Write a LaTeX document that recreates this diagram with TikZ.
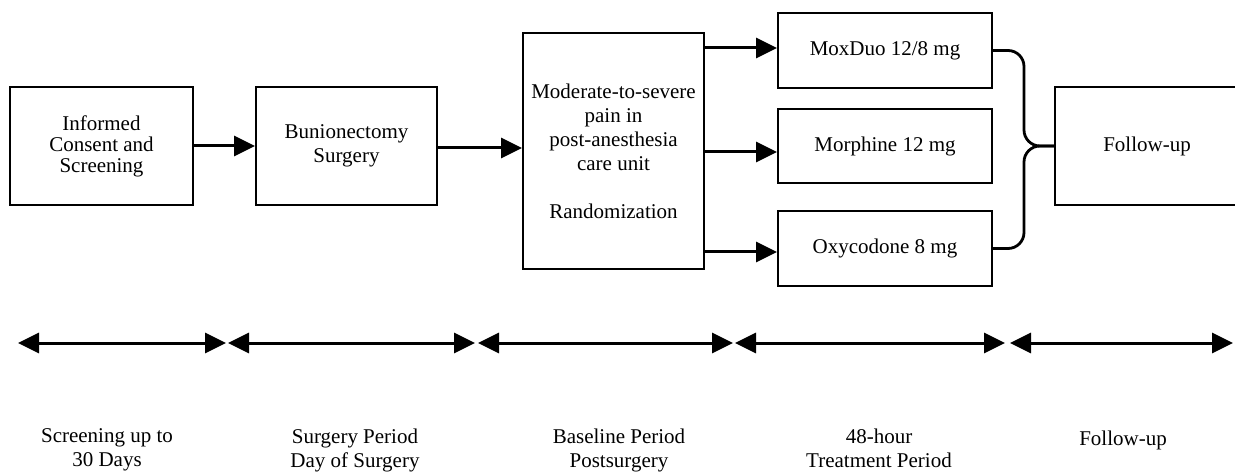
\documentclass[tikz,border=0pt]{standalone}
\usepackage{fontspec}
\setmainfont{Liberation Serif}
\usetikzlibrary{arrows.meta}
\begin{document}
\begin{tikzpicture}[x=1pt,y=-1pt,
  txt/.style={font=\fontsize{21}{24}\selectfont},
  box/.style={draw, line width=2pt, inner sep=0pt, align=center, txt},
  arr/.style={line width=3pt, -{Triangle[length=21pt,width=20pt]}},
  tl/.style={line width=3pt, {Triangle[length=21pt,width=20pt]}-{Triangle[length=21pt,width=20pt]}},
  brace/.style={line width=2.8pt, rounded corners=16pt},
  lab/.style={align=center, txt}]
\useasboundingbox (0,0) rectangle (1235,473);
\clip (0,0) rectangle (1235,473);
% boxes
\node[box, minimum width=183pt, minimum height=118pt, font=\fontsize{21}{21}\selectfont] (inf) at (101.5,146) {Informed\\Consent and\\Screening};
\node[box, minimum width=181pt, minimum height=118pt] (bun) at (346.5,146) {Bunionectomy\\Surgery};
\node[box, minimum width=181pt, minimum height=236pt] (pain) at (613.5,151) {Moderate-to-severe\\pain in\\post-anesthesia\\care unit\\[24pt]Randomization};
\node[box, minimum width=214pt, minimum height=75pt] (mox) at (885,50.5) {MoxDuo 12/8 mg};
\node[box, minimum width=214pt, minimum height=74pt] (mor) at (885,146) {Morphine 12 mg};
\node[box, minimum width=214pt, minimum height=75pt] (oxy) at (885,248.5) {Oxycodone 8 mg};
\node[box, minimum width=184pt, minimum height=118pt] (fu) at (1147,146) {Follow-up};
% flow arrows
\draw[arr] (inf) -- (bun);
\draw[arr] ([yshift=-2pt]bun.east) -- ([yshift=-2pt]bun.east -| pain.west);
\draw[arr] ([yshift=2.5pt]pain.east |- mox.west) -- ([yshift=2.5pt]mox.west);
\draw[arr] ([yshift=-6pt]pain.east |- mor.west) -- ([yshift=-6pt]mor.west);
\draw[arr] ([yshift=-3.5pt]pain.east |- oxy.west) -- ([yshift=-3.5pt]oxy.west);
% brace into follow-up
\coordinate (bt) at (1024,50.5);
\coordinate (bm) at (1024,146);
\coordinate (bb) at (1024,248.5);
\draw[brace] (mox.east) -- (bt) -- (bm) -- (fu.west);
\draw[brace] (oxy.east) -- (bb) -- (bm) -- (fu.west);
% timeline
\coordinate (p0) at (18,343);
\coordinate (p1) at (226,343);
\coordinate (p2) at (228,343);
\coordinate (p3) at (475,343);
\coordinate (p4) at (478,343);
\coordinate (p5) at (733,343);
\coordinate (p6) at (735,343);
\coordinate (p7) at (1005,343);
\coordinate (p8) at (1010,343);
\coordinate (p9) at (1233,343);
\draw[tl] (p0) -- (p1);
\draw[tl] (p2) -- (p3);
\draw[tl] (p4) -- (p5);
\draw[tl] (p6) -- (p7);
\draw[tl] (p8) -- (p9);
% period labels
\node[lab] (l1) at (107,450) {Screening up to\\30 Days};
\node[lab] (l2) at (355,450) {Surgery Period\\Day of Surgery};
\node[lab] (l3) at (619,450) {Baseline Period\\Postsurgery};
\node[lab] (l4) at (879,448) {48-hour\\Treatment Period};
\node[lab] (l5) at (1123,440) {Follow-up};
\end{tikzpicture}
\end{document}
